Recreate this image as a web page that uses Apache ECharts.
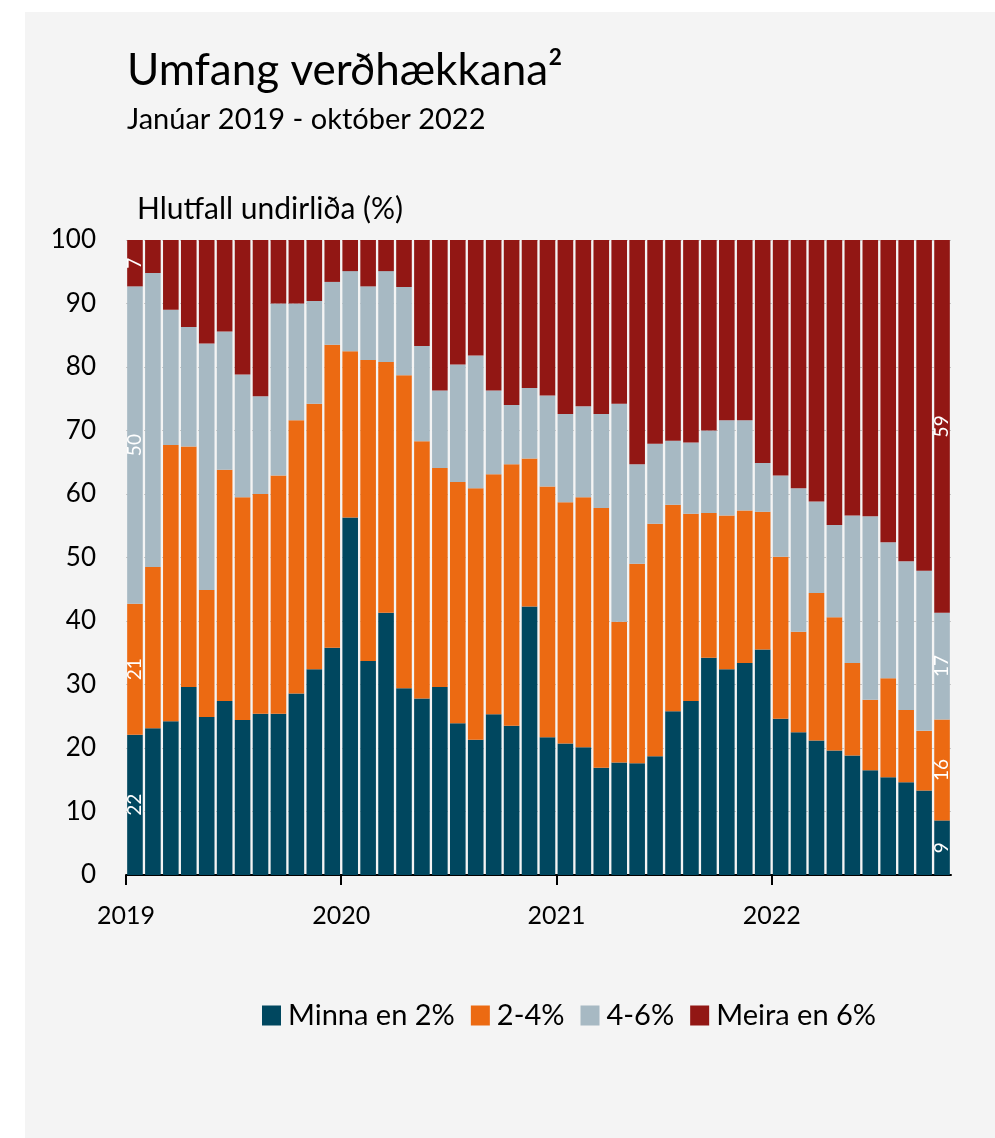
<!DOCTYPE html>
<html>
<head>
<meta charset="utf-8">
<script src="https://cdn.jsdelivr.net/npm/echarts@6/dist/echarts.min.js"></script>
<style>
  html, body { margin: 0; padding: 0; background: #fff; }
  #chart { position: absolute; left: 25px; top: 12px; width: 970px; height: 1126px; background: #f4f4f4; }
</style>
</head>
<body>
<div id="chart"></div>
<script>
// mánuðir jan 2019 - okt 2022
const months = [
  '2019-01','2019-02','2019-03','2019-04','2019-05','2019-06','2019-07','2019-08','2019-09','2019-10','2019-11','2019-12',
  '2020-01','2020-02','2020-03','2020-04','2020-05','2020-06','2020-07','2020-08','2020-09','2020-10','2020-11','2020-12',
  '2021-01','2021-02','2021-03','2021-04','2021-05','2021-06','2021-07','2021-08','2021-09','2021-10','2021-11','2021-12',
  '2022-01','2022-02','2022-03','2022-04','2022-05','2022-06','2022-07','2022-08','2022-09','2022-10'
]

const minna = [
  22.1, 23.1, 24.2, 29.6, 24.9, 27.4, 24.4, 25.4, 25.4, 28.6, 32.4, 35.8,
  56.3, 33.7, 41.3, 29.4, 27.8, 29.6, 23.9, 21.3, 25.3, 23.5, 42.3, 21.7,
  20.7, 20.1, 16.9, 17.7, 17.6, 18.7, 25.8, 27.4, 34.2, 32.4, 33.4, 35.5,
  24.6, 22.5, 21.2, 19.6, 18.8, 16.5, 15.4, 14.6, 13.3, 8.6
]
const milli24 = [
  20.6, 25.4, 43.5, 37.9, 20.0, 36.4, 35.1, 34.6, 37.5, 43.0, 41.8, 47.7,
  26.2, 47.4, 39.5, 49.3, 40.5, 34.5, 38.0, 39.6, 37.8, 41.2, 23.3, 39.5,
  38.0, 39.4, 40.9, 22.2, 31.4, 36.6, 32.5, 29.5, 22.8, 24.2, 24.0, 21.7,
  25.5, 15.8, 23.2, 21.0, 14.6, 11.1, 15.6, 11.4, 9.4, 15.9
]
const milli46 = [
  50.0, 46.3, 21.3, 18.8, 38.8, 21.8, 19.3, 15.4, 27.1, 18.4, 16.2, 9.9,
  12.6, 11.6, 14.3, 13.9, 15.0, 12.2, 18.5, 20.9, 13.2, 9.3, 11.1, 14.3,
  13.9, 14.3, 14.8, 34.3, 15.7, 12.6, 10.1, 11.2, 13.0, 15.0, 14.2, 7.7,
  12.8, 22.6, 14.4, 14.5, 23.2, 28.9, 21.4, 23.4, 25.2, 16.8
]
const meira = [
  7.3, 5.2, 11.0, 13.7, 16.3, 14.4, 21.2, 24.6, 10.0, 10.0, 9.6, 6.6,
  4.9, 7.3, 4.9, 7.4, 16.7, 23.7, 19.6, 18.2, 23.7, 26.0, 23.3, 24.5,
  27.4, 26.2, 27.4, 25.8, 35.3, 32.1, 31.6, 31.9, 30.0, 28.4, 28.4, 35.1,
  37.1, 39.1, 41.2, 44.9, 43.4, 43.5, 47.6, 50.6, 52.1, 58.7
]

const yearLabels = ['2019', '2020', '2021', '2022']
const yearTicks = [0, 12, 24, 36]

const font = 'Lato'

// merki á fyrstu og síðustu súlu
const endLabels = vals => vals.map((v, i) =>
  (i === 0 || i === vals.length - 1) ? { value: v, label: { show: true } } : v)

const makeSeries = (name, data, color) => ({
  name,
  type: 'bar',
  stack: 'total',
  barCategoryGap: '13%',
  data: endLabels(data),
  itemStyle: { color },
  label: {
    show: false,
    position: 'inside',
    rotate: 90,
    color: '#fff',
    fontFamily: font,
    fontSize: 19,
    formatter: p => Math.round(p.value)
  }
})

const myChart = echarts.init(document.getElementById('chart'))

const option = {
  animation: false,
  title: {
    text: 'Umfang verðhækkana²',
    subtext: 'Janúar 2019 - október 2022',
    left: 97,
    top: 32,
    itemGap: 12,
    textStyle: { fontFamily: font, fontSize: 44, fontWeight: 'normal', color: '#000' },
    subtextStyle: { fontFamily: font, fontSize: 29, color: '#000' }
  },
  legend: {
    data: ['Minna en 2%', '2-4%', '4-6%', 'Meira en 6%'],
    left: 232,
    top: 984,
    icon: 'rect',
    itemWidth: 19,
    itemHeight: 20,
    itemGap: 16,
    textStyle: { fontFamily: font, fontSize: 29, color: '#000', padding: [0, 0, 0, 2] }
  },
  grid: {
    left: 101,
    right: 44,
    top: 228,
    bottom: 263
  },
  xAxis: [
    {
      type: 'category',
      data: months,
      axisLine: { lineStyle: { color: '#000', width: 2 } },
      axisTick: { show: false },
      axisLabel: { show: false }
    },
    {
      type: 'value',
      min: 0,
      max: months.length,
      position: 'bottom',
      axisLine: { show: false },
      splitLine: { show: false },
      axisTick: {
        show: true,
        customValues: yearTicks,
        length: 10,
        lineStyle: { color: '#000', width: 2 }
      },
      axisLabel: {
        customValues: yearTicks,
        formatter: v => yearLabels[v / 12],
        fontFamily: font,
        fontSize: 25,
        color: '#000',
        margin: 28
      }
    }
  ],
  yAxis: {
    type: 'value',
    min: 0,
    max: 100,
    interval: 10,
    name: 'Hlutfall undirliða (%)',
    nameLocation: 'end',
    nameGap: 16,
    nameTextStyle: { fontFamily: font, fontSize: 30, color: '#000', align: 'left', padding: [0, 0, 0, 11] },
    axisLine: { show: false },
    axisTick: { show: false },
    axisLabel: { fontFamily: font, fontSize: 26, color: '#000', margin: 30 },
    splitLine: { lineStyle: { type: 'dashed', color: '#c8c8c8' } }
  },
  series: [
    makeSeries('Minna en 2%', minna, '#00475f'),
    makeSeries('2-4%', milli24, '#ec6a12'),
    makeSeries('4-6%', milli46, '#a7b9c3'),
    makeSeries('Meira en 6%', meira, '#921714')
  ]
}

myChart.setOption(option)
</script>
</body>
</html>
